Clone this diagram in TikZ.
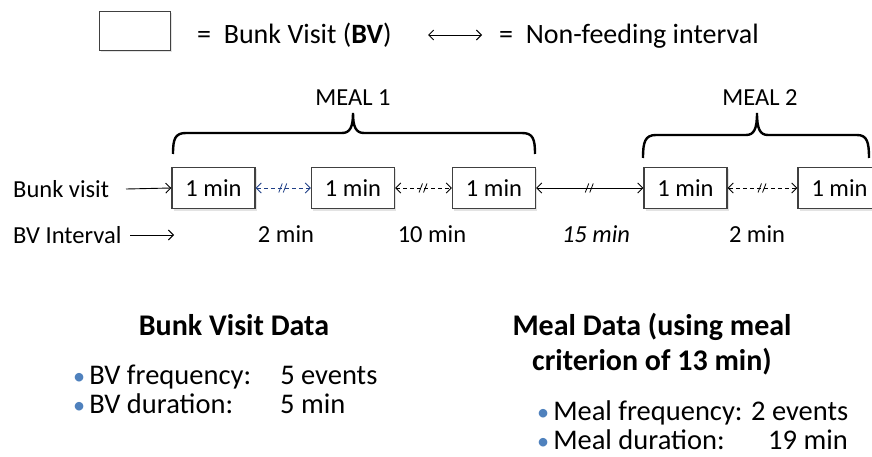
\documentclass[tikz,border=0pt]{standalone}
\usepackage{fontspec}
\usepackage{graphicx}
\setmainfont{Carlito}
\usetikzlibrary{arrows.meta,shadows,decorations.markings}
\definecolor{boxgray}{HTML}{404040}
\definecolor{navy}{HTML}{1F3F86}
\definecolor{bulblue}{HTML}{4F81BD}
\newcommand{\mybul}{{\color{bulblue}\scalebox{0.85}{•}}\hspace{4pt}}
\begin{document}
\begin{tikzpicture}[x=1pt,y=-1pt,
  bvbox/.style={draw=boxgray, line width=1.4pt, fill=white, minimum width=83pt, minimum height=41pt, inner sep=0pt,
    font=\fontsize{24.5}{28}\selectfont,
    drop shadow={shadow xshift=1.5pt, shadow yshift=-2pt, opacity=0.22}},
  lbl/.style={font=\fontsize{24.5}{28}\selectfont, inner sep=0pt, anchor=base},
  leg/.style={font=\fontsize{28}{32}\selectfont, inner sep=0pt, anchor=base west},
  head/.style={font=\fontsize{30}{36}\selectfont\bfseries, inner sep=0pt, anchor=base},
  item/.style={font=\fontsize{28.5}{34}\selectfont, inner sep=0pt, anchor=base west},
  tip/.style={arrows={Straight Barb[length=5pt,width=10pt]-Straight Barb[length=5pt,width=10pt]}},
  sgl/.style={line width=0.9pt, -{Straight Barb[length=5pt,width=10pt]}},
  ivl/.style={line width=0.9pt, tip},
  dsh/.style={dash pattern=on 4pt off 3pt},
  brk/.style={postaction={decorate, decoration={markings, mark=at position 0.5 with {
      \draw[solid, arrows=-, line width=0.8pt] (-4.5pt,-4.5pt) -- (-1pt,4.5pt);
      \draw[solid, arrows=-, line width=0.8pt] (0pt,-4.5pt) -- (3.5pt,4.5pt);}}}},
  brace/.style={line width=2.4pt, black}
]
\useasboundingbox (0,0) rectangle (872,457);

% legend
\node[bvbox, minimum width=71pt, minimum height=39pt] (legbox) at (135,31) {};
\node[leg] (legbv) at (197,44) {=\ \ Bunk Visit (\textbf{BV})};
\coordinate (la) at (428,35);
\coordinate (lb) at (482,35);
\draw[ivl] (la) -- (lb);
\node[leg] (legnf) at (499,44) {=\ \ Non-feeding interval};

% meals
\node[lbl] (meal1) at (353,106) {MEAL 1};
\node[lbl] (meal2) at (760,106) {MEAL 2};
\draw[brace] (173,154) .. controls (173,139) and (175,133) .. (186,133) -- (342,133)
  .. controls (350,133) and (353,127) .. (353,113)
  .. controls (353,127) and (356,133) .. (364,133) -- (522,133)
  .. controls (533,133) and (535,139) .. (535,154);
\draw[brace] (643,158) .. controls (643,142) and (645,135) .. (656,135) -- (746,135)
  .. controls (754,135) and (757,129) .. (757,113)
  .. controls (757,129) and (760,135) .. (768,135) -- (857,135)
  .. controls (867,135) and (869,142) .. (869,158);

% bunk visits
\node[bvbox] (b1) at (213.5,188) {1 min};
\node[bvbox] (b2) at (353,188) {1 min};
\node[bvbox] (b3) at (494,188) {1 min};
\node[bvbox] (b4) at (685.5,188) {1 min};
\node[bvbox] (b5) at (839.5,188) {1 min};

\node[lbl, anchor=base west] (bvlab) at (13,197) {Bunk visit};
\coordinate (bva) at (126,189);
\draw[sgl] (bva) -- (b1.west);
\node[lbl, anchor=base west] (ivlab) at (13,243) {BV Interval};
\coordinate (iva) at (130,235);
\coordinate (ivb) at (174,235);
\draw[sgl] (iva) -- (ivb);

\draw[ivl, dsh, brk, navy] (b1.east) -- (b2.west);
\draw[ivl, dsh, brk] (b2.east) -- (b3.west);
\draw[ivl, brk] (b3.east) -- (b4.west);
\draw[ivl, dsh, brk] (b4.east) -- (b5.west);

\node[lbl] (i1) at (286,242) {2 min};
\node[lbl] (i2) at (432,242) {10 min};
\node[lbl] (i3) at (596,242) {\itshape 15 min};
\node[lbl] (i4) at (757,242) {2 min};

% data
\node[head] (bvd) at (234,335) {Bunk Visit Data};
\node[item] (bvf) at (73,384) {\mybul\makebox[191pt][l]{BV frequency:}5 events};
\node[item] (bvdu) at (73,413) {\mybul\makebox[191pt][l]{BV duration:}5 min};

\node[head] (md1) at (652,335) {Meal Data (using meal};
\node[head] (md2) at (652,370) {criterion of 13 min)};
\node[item] (mf) at (537,420) {\mybul Meal frequency: 2 events};
\node[item] (mdu) at (537,449) {\mybul\makebox[215pt][l]{Meal duration:}19 min};
\end{tikzpicture}
\end{document}
